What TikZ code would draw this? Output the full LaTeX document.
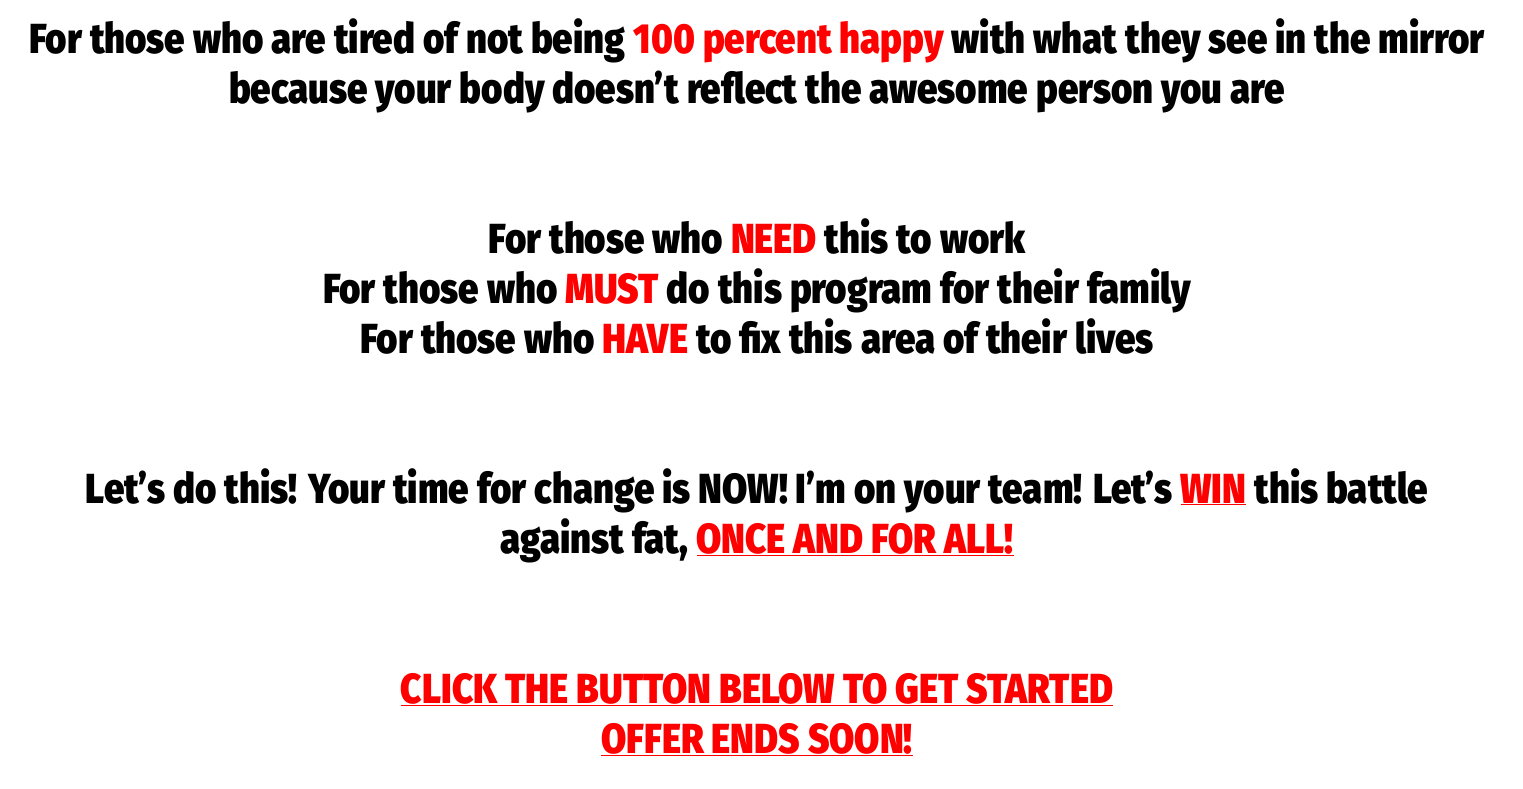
\documentclass[tikz,border=0pt]{standalone}
\usepackage{fontspec}
\setmainfont{Fira Sans}[UprightFont=* Bold, BoldFont=* Black, FakeStretch=0.87]
\definecolor{rd}{RGB}{255,0,0}
\newcommand{\rr}[1]{\textcolor{rd}{#1}}
\newcommand{\ru}[1]{\textcolor{rd}{\underline{#1}}}
\begin{document}
\begin{tikzpicture}[x=1pt,y=1pt,
  txt/.style={anchor=base,inner sep=0pt,font=\fontsize{42}{42}\selectfont\bfseries}]
\useasboundingbox (0,0) rectangle (1523,-788);
\node[txt] (l1) at (757,-53) {For those who are tired of not being \rr{100 percent happy} with what they see in the mirror};
\node[txt] (l2) at (757,-103) {because your body doesn’t reflect the awesome person you are};
\node[txt] (l3) at (757,-253) {For those who \rr{NEED} this to work};
\node[txt] (l4) at (757,-303) {For those who \rr{MUST} do this program for their family};
\node[txt] (l5) at (757,-353) {For those who \rr{HAVE} to fix this area of their lives};
\node[txt] (l6) at (757,-503) {Let’s do this! Your time for change is NOW! I’m on your team! Let’s \ru{WIN} this battle};
\node[txt] (l7) at (757,-553) {against fat, \ru{ONCE AND FOR ALL!}};
\node[txt] (l8) at (757,-703) {\ru{CLICK THE BUTTON BELOW TO GET STARTED}};
\node[txt] (l9) at (757,-753) {\ru{OFFER ENDS SOON!}};
\end{tikzpicture}
\end{document}
